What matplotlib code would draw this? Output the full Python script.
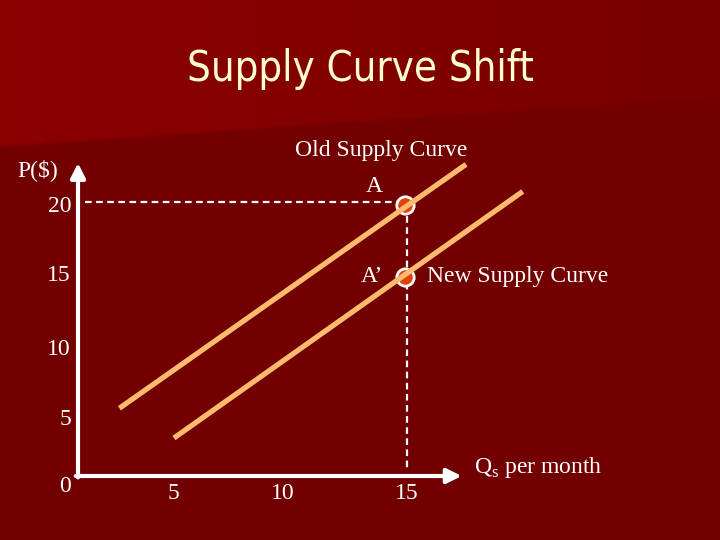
import matplotlib
matplotlib.use("Agg")
import matplotlib.pyplot as plt
import numpy as np

plt.rcParams['mathtext.fontset'] = 'custom'
plt.rcParams['mathtext.rm'] = 'Liberation Serif'

# supply curves (quantity, price)
old_supply_q = [1.9, 17.8]
old_supply_p = [5.0, 23.0]
new_supply_q = [4.4, 20.4]
new_supply_p = [2.8, 21.0]

# equilibrium points
point_q = [15, 15]
point_p = [20, 14.7]
point_names = ["A", "A\u2019"]

x_ticks = [5, 10, 15]
y_ticks = [0, 5, 10, 15, 20]

serif = "Liberation Serif"
cream = "#FFFFCC"
fs = 17

fig = plt.figure(figsize=(7.2, 5.4), dpi=100)

# slide background
bg = fig.add_axes([0, 0, 1, 1])
h, w = 540, 720
yy, xx = np.mgrid[0:h, 0:w]
base = np.array([0.45, 0.0, 0.0])
top_l = np.array([0.55, 0.0, 0.0])
top_r = np.array([0.47, 0.0, 0.0])
edge = 148 - 0.07 * xx
mask = np.clip((edge - yy) / 4.0, 0, 1)[..., None]
frac = (xx / w)[..., None]
top = top_l * (1 - frac) + top_r * frac
img = base * (1 - mask) + top * mask
bg.imshow(img, extent=[0, w, h, 0], aspect='auto')
bg.axis('off')

ax = fig.add_axes([0, 0, 1, 1])
ax.patch.set_alpha(0)
ax.set_xlim(-78 / 21.8, 642 / 21.8)
ax.set_ylim(-64 / 13.55, 476 / 13.55)
ax.axis('off')

fig.text(0.5, 0.872, "Supply Curve Shift", ha='center', va='center',
         fontsize=30, color=cream, family="DejaVu Sans", fontstretch='condensed')

# axes with arrows
ax.annotate('', xy=(17.6, 0), xytext=(-0.1, 0),
            arrowprops=dict(arrowstyle='-|>', lw=3, color='white', mutation_scale=22, shrinkA=0, shrinkB=0))
ax.annotate('', xy=(0, 23.1), xytext=(0, -0.1),
            arrowprops=dict(arrowstyle='-|>', lw=3, color='white', mutation_scale=22, shrinkA=0, shrinkB=0))

# dashed guides
ax.plot([0.3, point_q[0]], [point_p[0] + 0.25, point_p[0] + 0.25], color='white', lw=1.6,
        ls=(0, (3, 2)), zorder=2)
ax.plot([point_q[0] + 0.1, point_q[0] + 0.1], [point_p[0], 0.6], color='white', lw=1.6,
        ls=(0, (3, 2)), zorder=2)

# points
ax.plot(point_q, point_p, 'o', ms=12.5, mfc='#E0400A', mec='white', mew=2, zorder=3)

# supply lines
ax.plot(old_supply_q, old_supply_p, color='#FFBA6E', lw=3.8, solid_capstyle='butt', zorder=4)
ax.plot(new_supply_q, new_supply_p, color='#FFBA6E', lw=3.8, solid_capstyle='butt', zorder=4)

# tick labels (hand placed on the slide, a little off the values)
y_off = [-0.8, -0.85, -0.7, -0.2, -0.1]
for v, o in zip(y_ticks, y_off):
    ax.text(-0.32, v + o, str(v), ha='right', va='center', fontsize=fs, color='white', family=serif)
x_off = [-0.6, -0.6, 0.1]
for v, o in zip(x_ticks, x_off):
    ax.text(v + o, -1.3, str(v), ha='center', va='center', fontsize=fs, color='white', family=serif)

ax.text(-1.83, 22.6, "P($)", ha='center', va='center', fontsize=fs, color='white', family=serif)
ax.text(18.17, 0.6, r"Q$_\mathrm{s}$ per month", ha='left', va='center', fontsize=fs,
        color='white', family=serif)

ax.text(13.9, 24.0, "Old Supply Curve", ha='center', va='center', fontsize=fs, color='white', family=serif)
ax.text(13.58, 21.4, point_names[0], ha='center', va='center', fontsize=fs, color='white', family=serif)
ax.text(13.49, 14.76, point_names[1], ha='center', va='center', fontsize=fs, color='white', family=serif)
ax.text(16.0, 14.76, "New Supply Curve", ha='left', va='center', fontsize=fs, color='white', family=serif)

fig.savefig("out.png", dpi=100)
